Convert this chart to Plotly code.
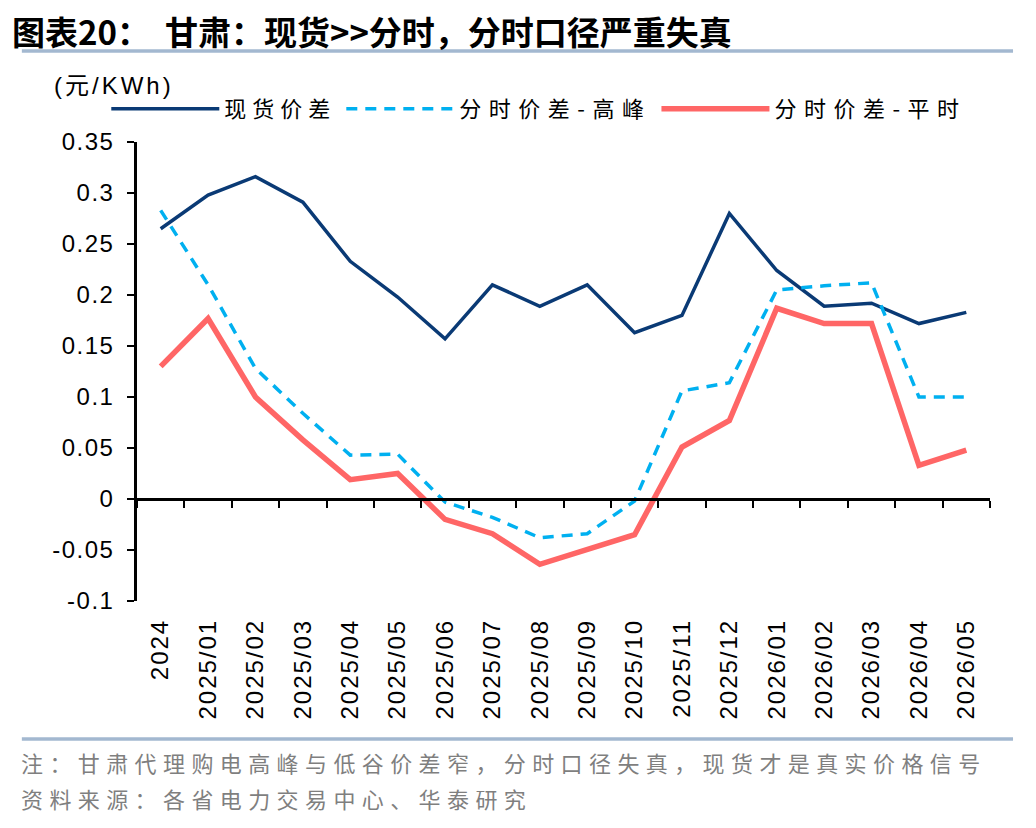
import plotly.graph_objects as go

categories = ["2024", "2025/01", "2025/02", "2025/03", "2025/04", "2025/05", "2025/06",
              "2025/07", "2025/08", "2025/09", "2025/10", "2025/11", "2025/12",
              "2026/01", "2026/02", "2026/03", "2026/04", "2026/05"]
spot_spread = [0.265, 0.298, 0.316, 0.291, 0.233, 0.198, 0.157, 0.210, 0.189, 0.210,
               0.163, 0.180, 0.280, 0.224, 0.189, 0.192, 0.172, 0.183]
tou_peak = [0.283, 0.210, 0.128, 0.084, 0.043, 0.044, -0.003, -0.018, -0.038, -0.034,
            -0.002, 0.106, 0.114, 0.205, 0.209, 0.212, 0.100, 0.100]
tou_flat = [0.130, 0.177, 0.100, 0.058, 0.019, 0.025, -0.020, -0.034, -0.064, -0.049,
            -0.035, 0.051, 0.077, 0.187, 0.172, 0.172, 0.033, 0.048]
y_tickvals = [0.35, 0.3, 0.25, 0.2, 0.15, 0.1, 0.05, 0, -0.05, -0.1]
y_ticktext = ["0.35", "0.3", "0.25", "0.2", "0.15", "0.1", "0.05", "0", "-0.05", "-0.1"]

FONT = "Arial, Liberation Sans, Noto Sans CJK SC, sans-serif"
CJK = "Noto Sans CJK SC, sans-serif"


def spaced(s, px):
    return '<span style="letter-spacing:%spx">%s</span>' % (px, s)


fig = go.Figure()
fig.add_trace(go.Scatter(x=categories, y=spot_spread, mode="lines", name=spaced("现货价差", 6),
                         line=dict(color="#0A3A75", width=3.5)))
fig.add_trace(go.Scatter(x=categories, y=tou_peak, mode="lines", name=spaced("分时价差-高峰", 7.5),
                         line=dict(color="#00B0F0", width=3.5, dash="11px,8px")))
fig.add_trace(go.Scatter(x=categories, y=tou_flat, mode="lines", name=spaced("分时价差-平时", 7.5),
                         line=dict(color="#FF6666", width=5.5)))
# invisible helper trace for the bottom label axis
fig.add_trace(go.Scatter(x=categories, y=spot_spread, xaxis="x2", mode="lines",
                         line=dict(width=0), opacity=0, showlegend=False, hoverinfo="skip"))

zero_pos = 0.1 / 0.45

fig.update_layout(
    width=1028, height=820,
    margin=dict(l=129, r=46, t=134, b=227),
    paper_bgcolor="white", plot_bgcolor="white",
    font=dict(family=FONT, color="black", size=22),
    showlegend=True,
    legend=dict(orientation="h", x=-0.036, y=1.072, xanchor="left", yanchor="middle",
                font=dict(family=CJK, size=22, color="black"), itemwidth=108,
                bgcolor="rgba(0,0,0,0)", tracegroupgap=0),
    xaxis=dict(type="category", range=[-0.5, 17.5], anchor="free", position=zero_pos,
               showline=True, linecolor="black", linewidth=2.5,
               ticks="outside", ticklen=7, tickwidth=2, tickcolor="black",
               tickson="boundaries", showticklabels=False, showgrid=False, zeroline=False),
    xaxis2=dict(type="category", range=[-0.5, 17.5], overlaying="x", anchor="y", side="bottom",
                showline=False, ticks="", showgrid=False, zeroline=False,
                tickvals=categories, ticktext=[spaced(c, 2) for c in categories],
                ticklabelstandoff=12,
                tickangle=-90, tickfont=dict(family=FONT, size=24, color="black")),
    yaxis=dict(range=[-0.1, 0.35], tickvals=y_tickvals,
               ticktext=[spaced(t, 1.5) for t in y_ticktext],
               showline=True, linecolor="black", linewidth=2.5,
               ticks="outside", ticklen=7, tickwidth=2, tickcolor="black",
               ticklabelstandoff=8,
               showgrid=False, zeroline=False,
               tickfont=dict(family=FONT, size=24, color="black")),
)

# separator rules
fig.add_shape(type="line", xref="paper", yref="paper", x0=-0.135, x1=1.027,
              y0=(601 - 51) / 459, y1=(601 - 51) / 459,
              line=dict(color="#A3B8D0", width=3.5))
fig.add_shape(type="line", xref="paper", yref="paper", x0=-0.135, x1=1.027,
              y0=(601 - 739) / 459, y1=(601 - 739) / 459,
              line=dict(color="#A3B8D0", width=3.5))

fig.add_annotation(text="<b>图表20：  甘肃：现货>>分时，分时口径严重失真</b>",
                   xref="paper", yref="paper",
                   x=(10 - 137) / 853, y=(601 - 31) / 459, xanchor="left", yanchor="middle",
                   showarrow=False, font=dict(family=CJK, size=33, color="black"))
fig.add_annotation(text=spaced("(元/KWh)", 3), xref="paper", yref="paper",
                   x=(52 - 137) / 853, y=(601 - 86) / 459, xanchor="left", yanchor="middle",
                   showarrow=False, font=dict(family=FONT, size=24, color="black"))
fig.add_annotation(text=spaced("注：甘肃代理购电高峰与低谷价差窄，分时口径失真，现货才是真实价格信号", 6.4),
                   xref="paper", yref="paper",
                   x=(19 - 137) / 853, y=(601 - 762) / 459, xanchor="left", yanchor="middle",
                   showarrow=False, font=dict(family=CJK, size=22, color="#7F7F7F"))
fig.add_annotation(text=spaced("资料来源：各省电力交易中心、华泰研究", 6.4),
                   xref="paper", yref="paper",
                   x=(19 - 137) / 853, y=(601 - 798) / 459, xanchor="left", yanchor="middle",
                   showarrow=False, font=dict(family=CJK, size=22, color="#7F7F7F"))

fig.write_html("out.html")
